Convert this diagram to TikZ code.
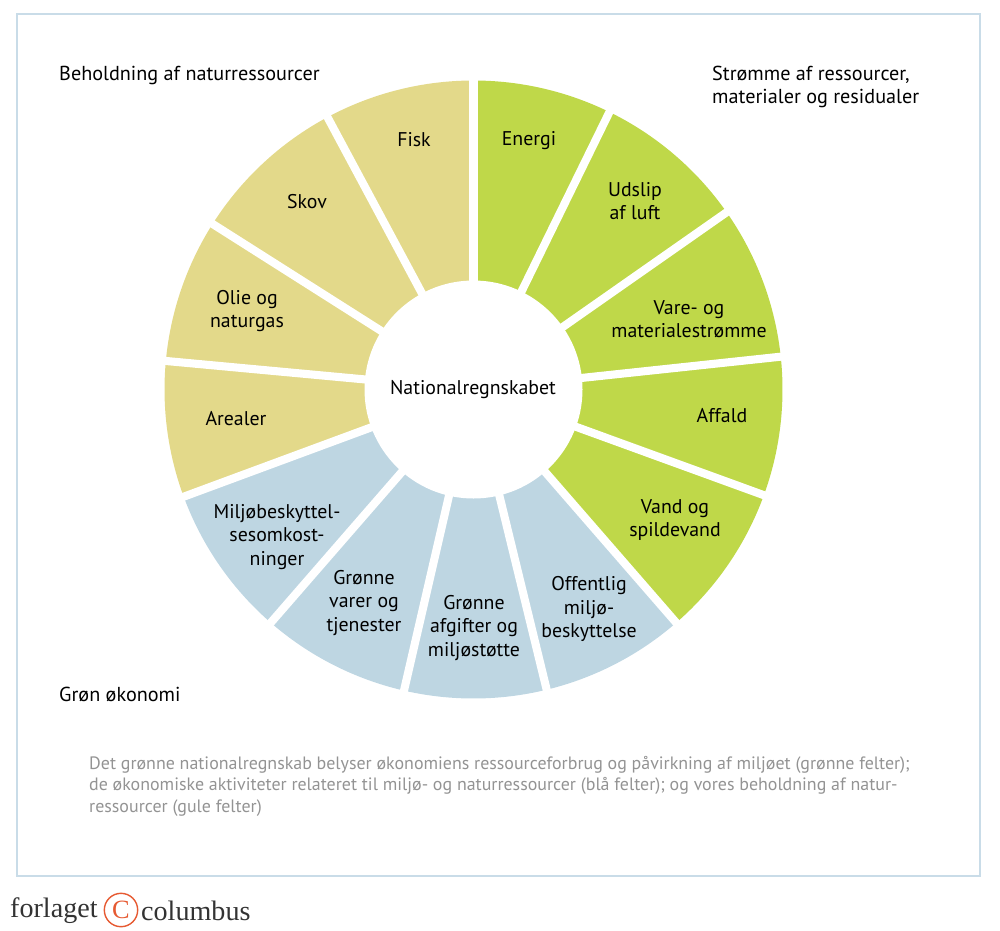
\documentclass[tikz,border=0pt]{standalone}
\usepackage{fontspec}
\setmainfont{PT Sans}
\newfontfamily\logofont{Liberation Serif}
\begin{document}
\begin{tikzpicture}[x=0.02cm,y=-0.02cm,
  lab/.style={font=\fontsize{11.3}{13.3}\selectfont, align=center, text=black},
  head/.style={font=\fontsize{11.5}{13.3}\selectfont, align=left, anchor=west}]
\definecolor{gy}{HTML}{E3D98A}
\definecolor{gg}{HTML}{BFD849}
\definecolor{gb}{HTML}{BED6E2}
\definecolor{frame}{HTML}{C9DCE8}
\useasboundingbox (0,0) rectangle (1000,930);
\draw[frame, line width=1pt] (17,14) rectangle (980,876);
\coordinate (c) at (473.5,389.5);
% boundaries (flipped angles = -screen angle)
\def\bl{-90,-63.9,-35,-6.1,20,49,76.3,103,131,159.7,185.3,212.4,241.8,270}
\foreach \k/\a/\b/\col in {0/-90/-63.9/gg,1/-63.9/-35/gg,2/-35/-6.1/gg,3/-6.1/20/gg,4/20/49/gg,
  5/49/76.3/gb,6/76.3/103/gb,7/103/131/gb,8/131/159.7/gb,
  9/159.7/185.3/gy,10/185.3/212.4/gy,11/212.4/241.8/gy,12/241.8/270/gy}{
  \fill[\col] (c) -- ++(\a:309) arc[start angle=\a, end angle=\b, radius=309] -- cycle;
}
\foreach \a in \bl{
  \draw[white, line width=4.6pt] (c) -- ++(\a:318);
}
\fill[white] (c) circle[radius=109];
\node[lab] (ctr) at (473,390) {Nationalregnskabet};
\node[lab] (fisk) at (414,140) {Fisk};
\node[lab] (energi) at (529,141) {Energi};
\node[lab] (udslip) at (635,201) {Udslip\\af luft};
\node[lab] (vare) at (689,319) {Vare- og\\materialestrømme};
\node[lab] (affald) at (722,416) {Affald};
\node[lab] (vand) at (675,520) {Vand og\\spildevand};
\node[lab] (off) at (589,609) {Offentlig\\miljø-\\beskyttelse};
\node[lab] (afg) at (474,628) {Grønne\\afgifter og\\miljøstøtte};
\node[lab] (gvar) at (364,603) {Grønne\\varer og\\tjenester};
\node[lab] (milj) at (277,537) {Miljøbeskyttel-\\sesomkost-\\ninger};
\node[lab] (areal) at (236,419) {Arealer};
\node[lab] (olie) at (247,311) {Olie og\\naturgas};
\node[lab] (skov) at (307,202) {Skov};
\node[head] (beh) at (53,75) {Beholdning af naturressourcer};
\node[head] (str) at (706,87) {Strømme af ressourcer,\\materialer og residualer};
\node[head] (gron) at (53,694) {Grøn økonomi};
\node[head, text=gray!85, font=\fontsize{10.2}{12.3}\selectfont] (cap) at (83,786) {Det grønne nationalregnskab belyser økonomiens ressourceforbrug og påvirkning af miljøet (grønne felter);\\de økonomiske aktiviteter relateret til miljø- og naturressourcer (blå felter); og vores beholdning af natur-\\ressourcer (gule felter)};
\node[anchor=west, font=\logofont\fontsize{16}{18}\selectfont, text=black!80] (logo1) at (4,911) {forlaget};
\node[circle, draw={rgb,255:red,230;green,90;blue,50}, line width=0.8pt, inner sep=0.5pt, minimum size=19pt, text={rgb,255:red,230;green,90;blue,50}, font=\logofont\fontsize{15}{17}\selectfont] (logoc) at (121,910) {C};
\node[anchor=west, font=\logofont\fontsize{16}{18}\selectfont, text=black!80] (logo2) at (135,911) {columbus};
\end{tikzpicture}
\end{document}
